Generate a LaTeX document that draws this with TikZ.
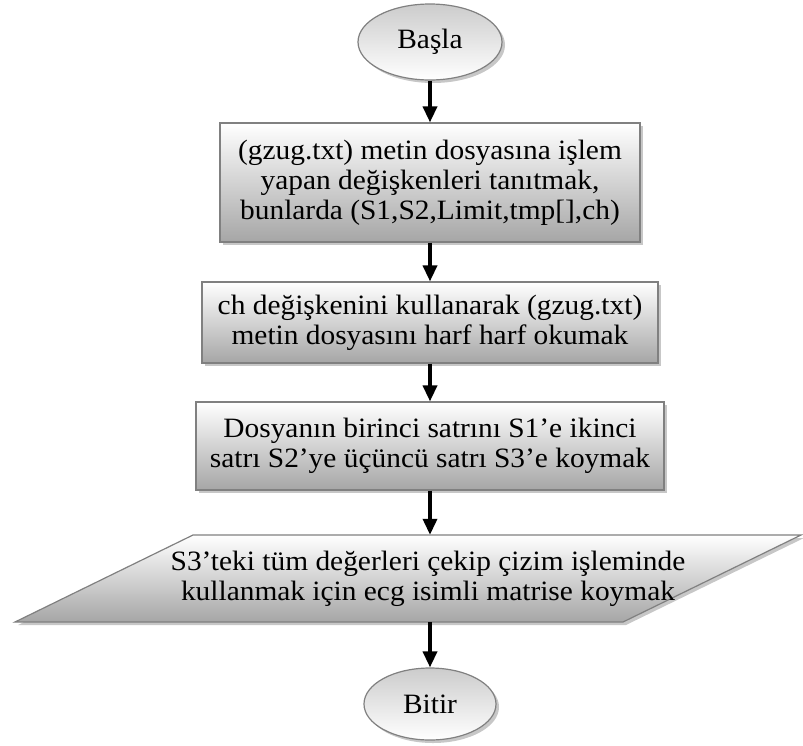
\documentclass[tikz,border=0pt]{standalone}
\usepackage{fontspec}
\setmainfont{Liberation Serif}[FakeStretch=1.05]
\usetikzlibrary{shapes.geometric,arrows.meta,shadows}

\tikzset{
  txt/.style={font=\fontsize{28}{30}\selectfont, align=center, text=black},
  shade3d/.style={top color=white, bottom color=gray!70, draw=gray, line width=1.2pt},
  boxshadow/.style={drop shadow={shadow xshift=3pt, shadow yshift=-3pt, fill=gray!55, opacity=.8}},
  procbox/.style={rectangle, txt, shade3d, boxshadow, inner sep=0pt},
  terminal/.style={ellipse, txt, top color=gray!40, bottom color=white, draw=gray, line width=1.2pt, boxshadow, inner sep=0pt},
  flow/.style={-{Triangle[width=14pt,length=16pt]}, line width=3.5pt, black},
}

\begin{document}
\begin{tikzpicture}[x=1pt, y=-1pt]
  \useasboundingbox (0,0) rectangle (803,745);

  % start / end terminals
  \node[terminal, minimum width=144pt, minimum height=76pt] (start) at (430,42) {Başla};
  \node[terminal, minimum width=132pt, minimum height=72pt] (stop) at (430,704) {Bitir};

  % process steps
  \node[procbox, minimum width=420pt, minimum height=119pt] (decl) at (430,182.5)
    {(gzug.txt) metin dosyasına işlem\\ yapan değişkenleri tanıtmak,\\ bunlarda (S1,S2,Limit,tmp[],ch)};
  \node[procbox, minimum width=456pt, minimum height=81pt] (read) at (430,322.5)
    {ch değişkenini kullanarak (gzug.txt)\\ metin dosyasını harf harf okumak};
  \node[procbox, minimum width=468pt, minimum height=88pt] (rows) at (430,446)
    {Dosyanın birinci satrını S1’e ikinci\\ satrı S2’ye üçüncü satrı S3’e koymak};

  % input/output parallelogram
  \fill[gray!55, opacity=.8] (196,538) -- (804,538) -- (626,625) -- (18,625) -- cycle;
  \shade[shade3d] (193,535) -- (801,535) -- (623,622) -- (15,622) -- cycle;
  \node[txt, minimum height=87pt, inner sep=0pt] (store) at (428,578.5)
    {S3’teki tüm değerleri çekip çizim işleminde\\ kullanmak için ecg isimli matrise koymak};

  % connectors
  \draw[flow] (start.south) -- (decl.north);
  \draw[flow] (decl.south) -- (read.north);
  \draw[flow] (read.south) -- (rows.north);
  \draw[flow] (rows.south) -- (store.north -| rows.south);
  \draw[flow] (store.south -| stop.north) -- (stop.north);
\end{tikzpicture}
\end{document}
